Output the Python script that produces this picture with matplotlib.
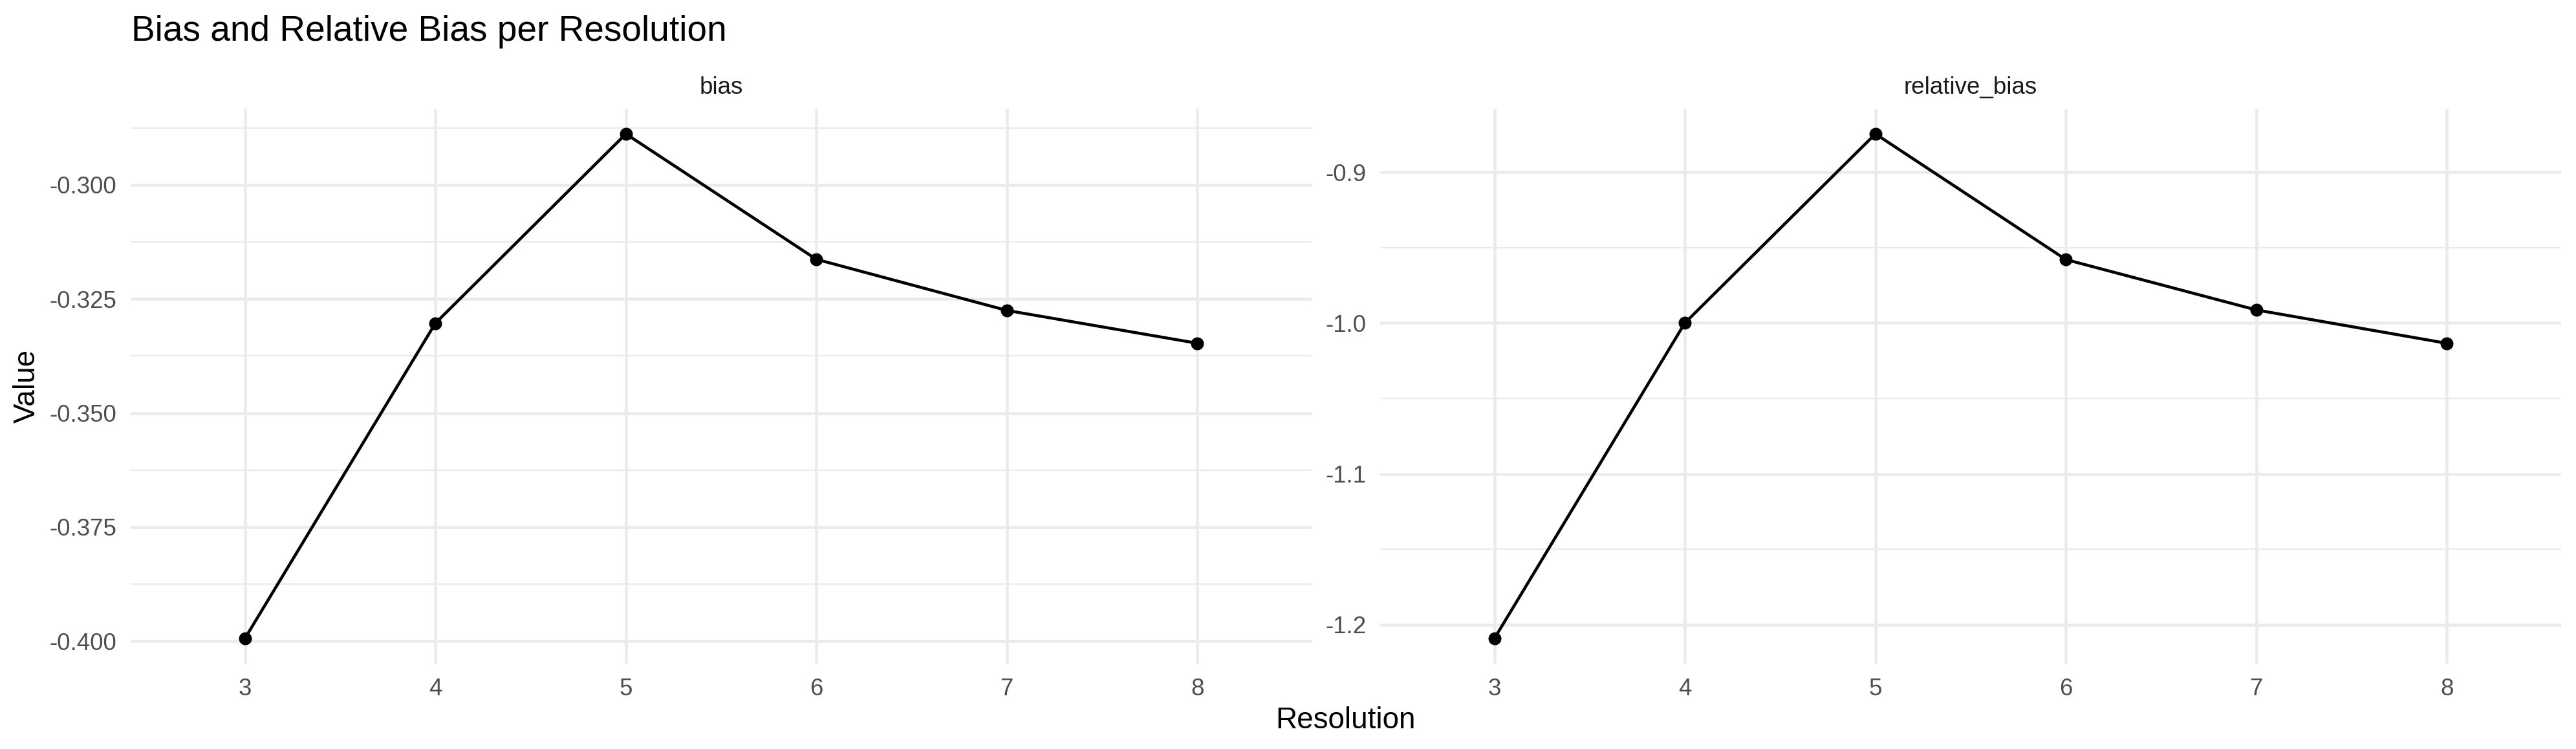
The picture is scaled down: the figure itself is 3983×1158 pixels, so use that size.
import numpy as np
import matplotlib
matplotlib.use("Agg")
import matplotlib.pyplot as plt

plt.rcParams['font.family'] = ['Liberation Sans', 'DejaVu Sans']

W, H, DPI = 3983, 1158, 300

resolution = [3, 4, 5, 6, 7, 8]
bias = [-0.3994, -0.3303, -0.2888, -0.3163, -0.3275, -0.3347]
relative_bias = [-1.2091, -1.0000, -0.8747, -0.9580, -0.9914, -1.0135]
facets = ["bias", "relative_bias"]

bias_ticks = [-0.300, -0.325, -0.350, -0.375, -0.400]
rel_ticks = [-0.9, -1.0, -1.1, -1.2]
bias_fmt = "{:.3f}"
rel_fmt = "{:.1f}"

GRID = "#EBEBEB"
TICKCOL = "#4D4D4D"

def px(x, y):
    return x / W, 1 - y / H

def draw_panel(ax, x, y, ticks, fmt, name):
    ax.plot(x, y, color="black", lw=1.1, zorder=3)
    ax.plot(x, y, "o", color="black", ms=4.8, mew=0, zorder=4)
    ax.set_xticks(x)
    ax.set_xticklabels([str(v) for v in x])
    ax.set_yticks(ticks)
    ax.set_yticklabels([fmt.format(t) for t in ticks])
    step = abs(ticks[1] - ticks[0])
    minors = [t + step / 2 for t in ticks] + [t - step / 2 for t in ticks]
    ax.set_yticks(sorted(set(round(m, 6) for m in minors)), minor=True)
    # ggplot-ish expansion: discrete x 0.6, continuous y 5% (after ticks so they don't widen it)
    ax.set_xlim(min(x) - 0.6, max(x) + 0.6)
    lo, hi = min(y), max(y)
    pad = (hi - lo) * 0.05
    ax.set_ylim(lo - pad, hi + pad)
    ax.grid(True, which="major", color=GRID, lw=1.1)
    ax.grid(True, which="minor", axis="y", color=GRID, lw=0.55)
    ax.set_axisbelow(True)
    for s in ax.spines.values():
        s.set_visible(False)
    ax.tick_params(which="both", length=0, pad=5.2, labelsize=8.8, labelcolor=TICKCOL)

fig = plt.figure(figsize=(W / DPI, H / DPI), dpi=DPI)

top, bottom = 168, 1026
pw = 1826
lefts = [202, 2134]
series = [bias, relative_bias]
tick_sets = [bias_ticks, rel_ticks]
fmts = [bias_fmt, rel_fmt]

for i in range(2):
    x0, y0 = px(lefts[i], bottom)
    ax = fig.add_axes([x0, y0, pw / W, (bottom - top) / H])
    draw_panel(ax, resolution, series[i], tick_sets[i], fmts[i], facets[i])
    sx, sy = px(lefts[i] + pw / 2, 145)
    fig.text(sx, sy, facets[i], ha="center", va="baseline", fontsize=8.8, color="#1A1A1A")

tx, ty = px(203, 63)
fig.text(tx, ty, "Bias and Relative Bias per Resolution", ha="left", va="baseline", fontsize=13.2)
lx, ly = px(42, (top + bottom) / 2)
fig.text(lx, ly, "Value", rotation=90, ha="center", va="center", fontsize=11)
rx, ry = px((202 + 3960) / 2, 1126)
fig.text(rx, ry, "Resolution", ha="center", va="baseline", fontsize=11)

fig.savefig("out.png", dpi=DPI, facecolor="white")
